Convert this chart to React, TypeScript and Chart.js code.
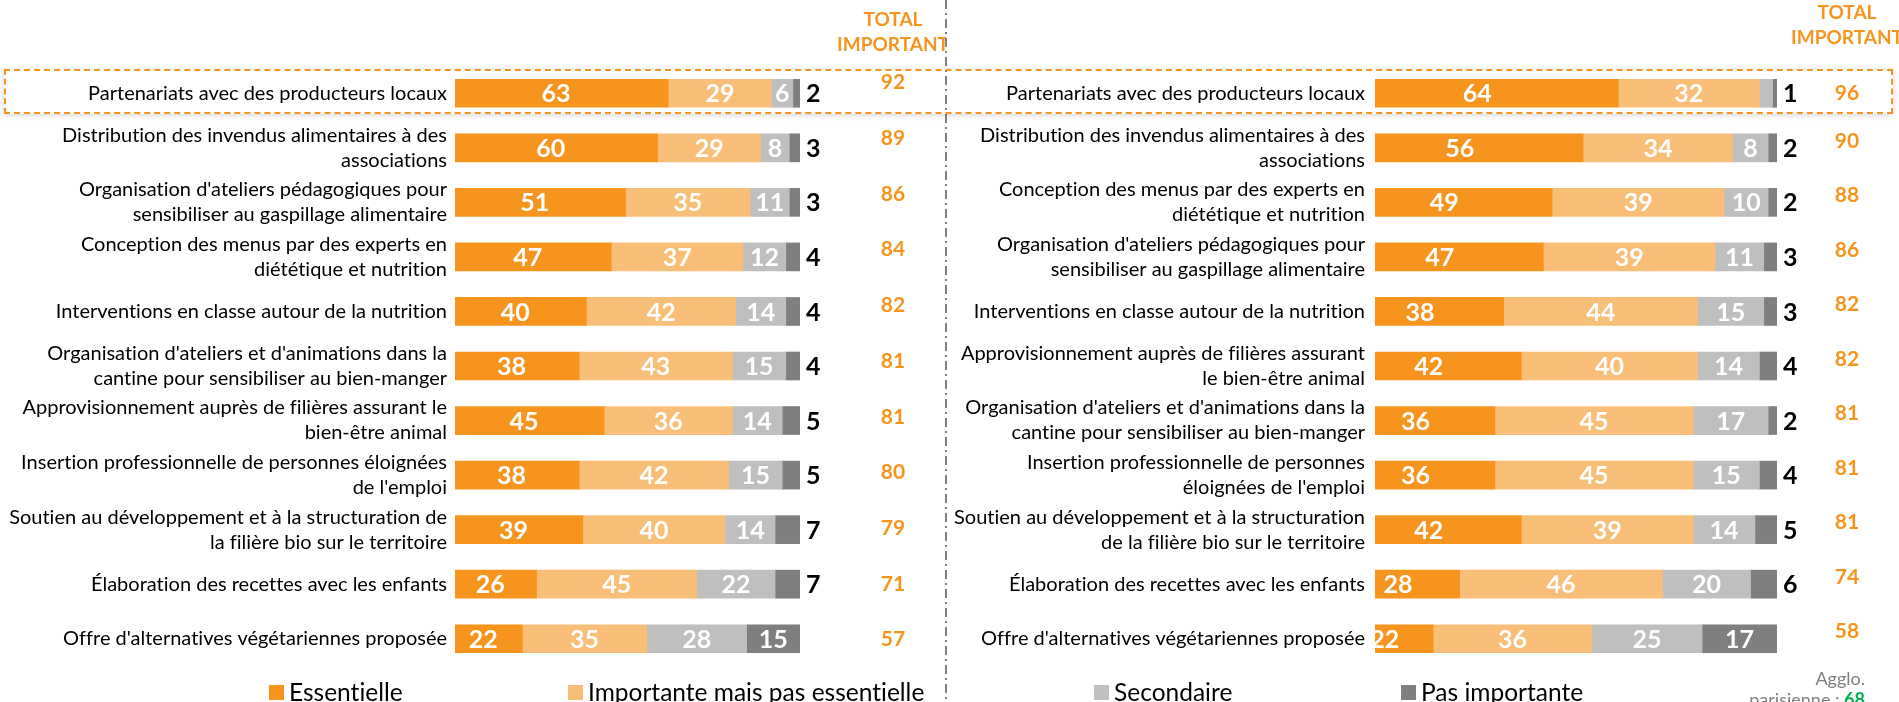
import React, { useEffect, useRef } from "react";
import { Chart, registerables } from "chart.js";

Chart.register(...registerables);

// ---------- DATA ----------
const SERIES = ["Essentielle", "Importante mais pas essentielle", "Secondaire", "Pas importante"];
const COLORS = ["#F7941D", "#F9BF78", "#BFBFBF", "#7F7F7F"];
const TOTAL_HEADER = ["TOTAL", "IMPORTANT"];

const leftCategories: (string | string[])[] = [
  "Partenariats avec des producteurs locaux",
  ["Distribution des invendus alimentaires à des", "associations"],
  ["Organisation d'ateliers pédagogiques pour", "sensibiliser au gaspillage alimentaire"],
  ["Conception des menus par des experts en", "diététique et nutrition"],
  "Interventions en classe autour de la nutrition",
  ["Organisation d'ateliers et d'animations dans la", "cantine pour sensibiliser au bien-manger"],
  ["Approvisionnement auprès de filières assurant le", "bien-être animal"],
  ["Insertion professionnelle de personnes éloignées", "de l'emploi"],
  ["Soutien au développement et à la structuration de", "la filière bio sur le territoire"],
  "Élaboration des recettes avec les enfants",
  "Offre d'alternatives végétariennes proposée",
];
const leftEssentielle = [63, 60, 51, 47, 40, 38, 45, 38, 39, 26, 22];
const leftImportante = [29, 29, 35, 37, 42, 43, 36, 42, 40, 45, 35];
const leftSecondaire = [6, 8, 11, 12, 14, 15, 14, 15, 14, 22, 28];
const leftPasImportante = [2, 3, 3, 4, 4, 4, 5, 5, 7, 7, 15];
const leftTotal = [92, 89, 86, 84, 82, 81, 81, 80, 79, 71, 57];

const rightCategories: (string | string[])[] = [
  "Partenariats avec des producteurs locaux",
  ["Distribution des invendus alimentaires à des", "associations"],
  ["Conception des menus par des experts en", "diététique et nutrition"],
  ["Organisation d'ateliers pédagogiques pour", "sensibiliser au gaspillage alimentaire"],
  "Interventions en classe autour de la nutrition",
  ["Approvisionnement auprès de filières assurant", "le bien-être animal"],
  ["Organisation d'ateliers et d'animations dans la", "cantine pour sensibiliser au bien-manger"],
  ["Insertion professionnelle de personnes", "éloignées de l'emploi"],
  ["Soutien au développement et à la structuration", "de la filière bio sur le territoire"],
  "Élaboration des recettes avec les enfants",
  "Offre d'alternatives végétariennes proposée",
];
const rightEssentielle = [64, 56, 49, 47, 38, 42, 36, 36, 42, 28, 22];
const rightImportante = [32, 34, 39, 39, 44, 40, 45, 45, 39, 46, 36];
const rightSecondaire = [3, 8, 10, 11, 15, 14, 17, 15, 14, 20, 25];
const rightPasImportante = [1, 2, 2, 3, 3, 4, 2, 4, 5, 6, 17];
const rightTotal = [96, 90, 88, 86, 82, 82, 81, 81, 81, 74, 58];

const AGGLO_LABEL = ["Agglo.", "parisienne : "];
const AGGLO_VALUE = "68";

// ---------- STYLE ----------
const FONT = "Lato, 'Open Sans', sans-serif";
const ORANGE = "#F7941D";

type PanelCfg = {
  categories: (string | string[])[];
  series: number[][];
  totals: number[];
  width: number;
  axisWidth: number;
  padRight: number;
  tickPad: number;
  xMin: number;
  totalX: number;
  headerY: number;
  totalOffset: (i: number) => number;
};

function makeLabelPlugin(cfg: PanelCfg) {
  return {
    id: "valueLabels",
    beforeDraw(chart: any) {
      try {
        (chart.ctx as any).textRendering = "optimizeSpeed";
      } catch (e) {}
    },
    afterDatasetsDraw(chart: any) {
      const ctx = chart.ctx as CanvasRenderingContext2D;
      ctx.save();
      ctx.textBaseline = "middle";
      chart.data.datasets.forEach((ds: any, di: number) => {
        const meta = chart.getDatasetMeta(di);
        meta.data.forEach((bar: any, i: number) => {
          const v = ds.data[i] as number;
          const { x, y, base } = bar.getProps(["x", "y", "base"], true);
          const cx = (x + base) / 2;
          ctx.font = `bold 25px ${FONT}`;
          if (di < 2 || (di === 2 && v >= 5) || (di === 3 && v >= 10)) {
            ctx.fillStyle = "#FFFFFF";
            ctx.textAlign = "center";
            ctx.fillText(String(v), cx, y + 1);
          } else if (di === 3) {
            ctx.fillStyle = "#000000";
            ctx.textAlign = "left";
            ctx.fillText(String(v), x + 6, y + 1);
          }
        });
      });
      // totals
      const meta0 = chart.getDatasetMeta(0);
      ctx.font = `bold 21px ${FONT}`;
      ctx.fillStyle = ORANGE;
      ctx.textAlign = "center";
      cfg.totals.forEach((t, i) => {
        const bar = meta0.data[i];
        if (!bar) return;
        ctx.fillText(String(t), cfg.totalX, bar.y + cfg.totalOffset(i));
      });
      // header
      ctx.font = `bold 19px ${FONT}`;
      TOTAL_HEADER.forEach((line, k) => {
        ctx.fillText(line, cfg.totalX, cfg.headerY + k * 25);
      });
      ctx.restore();
    },
  };
}

function Panel({ cfg, left }: { cfg: PanelCfg; left: number }) {
  const ref = useRef<HTMLCanvasElement | null>(null);
  useEffect(() => {
    if (!ref.current) return;
    const chart = new Chart(ref.current, {
      type: "bar",
      data: {
        labels: cfg.categories as any,
        datasets: SERIES.map((name, k) => ({
          label: name,
          data: cfg.series[k],
          backgroundColor: COLORS[k],
          borderWidth: 0,
          barThickness: 28,
        })),
      },
      options: {
        indexAxis: "y",
        responsive: false,
        animation: false,
        devicePixelRatio: 1,
        layout: { padding: { top: 66, bottom: 36, left: 0, right: cfg.padRight } },
        plugins: { legend: { display: false }, tooltip: { enabled: false } },
        scales: {
          x: { stacked: true, min: cfg.xMin, max: 100, display: false },
          y: {
            stacked: true,
            grid: { display: false, drawTicks: false },
            border: { display: false },
            ticks: {
              autoSkip: false,
              padding: cfg.tickPad,
              color: "#000000",
              font: { family: FONT, size: 20, lineHeight: 1.25 },
            },
            afterFit: (scale: any) => {
              scale.width = cfg.axisWidth;
            },
          },
        },
      },
      plugins: [makeLabelPlugin(cfg)],
    } as any);
    return () => chart.destroy();
  }, [cfg]);
  return (
    <canvas
      ref={ref}
      width={cfg.width}
      height={702}
      style={{ position: "absolute", left, top: 0, width: cfg.width, height: 702 }}
    />
  );
}

const leftCfg: PanelCfg = {
  categories: leftCategories,
  series: [leftEssentielle, leftImportante, leftSecondaire, leftPasImportante],
  totals: leftTotal,
  width: 946,
  axisWidth: 455,
  padRight: 146,
  tickPad: 8,
  xMin: 3.1,
  totalX: 893,
  headerY: 20,
  totalOffset: (i) => -11 + 1.2 * i,
};

const rightCfg: PanelCfg = {
  categories: rightCategories,
  series: [rightEssentielle, rightImportante, rightSecondaire, rightPasImportante],
  totals: rightTotal,
  width: 953,
  axisWidth: 429,
  padRight: 122,
  tickPad: 10,
  xMin: 8.8,
  totalX: 901,
  headerY: 13,
  totalOffset: (i) => (i === 0 ? 0 : -7),
};

const legendPos = [269, 568, 1094, 1401];

export default function App() {
  return (
    <div
      style={{
        position: "absolute",
        left: 0,
        top: 0,
        width: 1899,
        height: 702,
        overflow: "hidden",
        background: "#FFFFFF",
        fontFamily: FONT,
      }}
    >
      <Panel cfg={leftCfg} left={0} />
      <Panel cfg={rightCfg} left={946} />
      <svg
        width={1899}
        height={702}
        style={{ position: "absolute", left: 0, top: 0, pointerEvents: "none" }}
      >
        <line x1={946} y1={0} x2={946} y2={702} stroke="#808080" strokeWidth={2} strokeDasharray="9 4 2 4" />
      </svg>
      <div
        style={{
          position: "absolute",
          left: 4,
          top: 69,
          width: 1885,
          height: 41,
          border: `2px dashed ${ORANGE}`,
          boxShadow: "0 1px 6px rgba(0,0,0,0.18)",
        }}
      />
      {SERIES.map((name, k) => (
        <div
          key={name}
          style={{
            position: "absolute",
            left: legendPos[k],
            top: 677,
            height: 30,
            display: "flex",
            alignItems: "center",
            whiteSpace: "nowrap",
          }}
        >
          <span style={{ display: "inline-block", width: 15, height: 15, background: COLORS[k], marginRight: 5 }} />
          <span style={{ fontSize: 24.5, color: "#000000", lineHeight: "30px", textRendering: "optimizeSpeed" }}>{name}</span>
        </div>
      ))}
      <div
        style={{
          position: "absolute",
          right: 1899 - 1865,
          top: 668,
          textAlign: "right",
          fontSize: 18,
          lineHeight: "21px",
          color: "#808080",
          whiteSpace: "nowrap",
        }}
      >
        <div>{AGGLO_LABEL[0]}</div>
        <div>
          {AGGLO_LABEL[1]}
          <b style={{ color: "#00B050" }}>{AGGLO_VALUE}</b>
        </div>
      </div>
    </div>
  );
}
